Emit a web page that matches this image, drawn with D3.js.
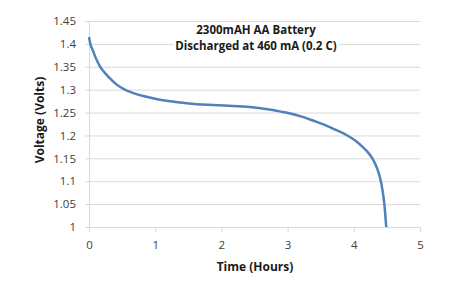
<!DOCTYPE html>
<html>
<head>
<meta charset="utf-8">
<script src="https://cdn.jsdelivr.net/npm/d3@7"></script>
<style>
  body { margin: 0; background: #fff; }
  svg { display: block; }
</style>
</head>
<body>
<div class="chart"></div>
<script>
// Taille du graphique
const width = 456;
const height = 289;
const margin = { top: 21, right: 36, bottom: 62, left: 89 };

const timeHours = [0, 0.02, 0.06, 0.1, 0.17, 0.25, 0.32, 0.42, 0.54, 0.68, 0.82, 1.0, 1.2, 1.5, 1.8, 2.1, 2.43, 2.7, 2.9, 3.04, 3.2, 3.39, 3.55, 3.7, 3.89, 4.02, 4.14, 4.22, 4.28, 4.33, 4.38, 4.42, 4.46, 4.49];
const voltage = [1.415, 1.4, 1.385, 1.37, 1.35, 1.335, 1.324, 1.311, 1.3, 1.292, 1.286, 1.28, 1.275, 1.27, 1.267, 1.265, 1.262, 1.257, 1.252, 1.248, 1.2416, 1.232, 1.2235, 1.214, 1.201, 1.189, 1.174, 1.162, 1.15, 1.136, 1.116, 1.092, 1.052, 1.0];

const xTicks = [0, 1, 2, 3, 4, 5];
const yTicks = [1, 1.05, 1.1, 1.15, 1.2, 1.25, 1.3, 1.35, 1.4, 1.45];
const titleLines = ['2300mAH AA Battery', 'Discharged at 460 mA (0.2 C)'];

const fontFamily = '"Open Sans", "DejaVu Sans", sans-serif';

const svg = d3.select('.chart')
	.append('svg')
	.attr('width', width)
	.attr('height', height)
	.style('font-family', fontFamily);

const x = d3.scaleLinear()
	.domain([0, 5])
	.range([margin.left, width - margin.right]);

const y = d3.scaleLinear()
	.domain([1, 1.45])
	.range([height - margin.bottom, margin.top]);

// Grille horizontale
svg.append('g')
	.attr('transform', `translate(${margin.left}, 0)`)
	.call(d3.axisLeft(y).tickValues(yTicks).tickSize(-(width - margin.left - margin.right)).tickFormat(''))
	.call(g => g.select('.domain').remove())
	.call(g => g.selectAll('line').attr('stroke', '#d9d9d9'));

// Axe vertical
svg.append('g')
	.attr('transform', `translate(${margin.left}, 0)`)
	.call(d3.axisLeft(y).tickValues(yTicks).tickSize(4).tickPadding(9).tickFormat(d3.format('')))
	.call(g => g.select('.domain').attr('stroke', '#d9d9d9'))
	.call(g => g.selectAll('line').attr('stroke', '#d9d9d9'))
	.call(g => g.selectAll('text').attr('fill', '#404040').style('font-size', '11.5px').style('font-family', fontFamily));

// Axe horizontal
svg.append('g')
	.attr('transform', `translate(0, ${height - margin.bottom})`)
	.call(d3.axisBottom(x).tickValues(xTicks).tickSize(5).tickPadding(9).tickFormat(d3.format('d')))
	.call(g => g.select('.domain').attr('stroke', '#d9d9d9'))
	.call(g => g.selectAll('line').attr('stroke', '#d9d9d9'))
	.call(g => g.selectAll('text').attr('fill', '#404040').style('font-size', '11.5px').style('font-family', fontFamily));

// Courbe
const data = timeHours.map((t, i) => ({ t: t, v: voltage[i] }));
svg.append('path')
	.datum(data)
	.attr('fill', 'none')
	.attr('stroke', '#4f81bd')
	.attr('stroke-width', 2.5)
	.attr('d', d3.line().x(d => x(d.t)).y(d => y(d.v)).curve(d3.curveMonotoneX));

// Titre (deux lignes) avec fond blanc
const title = svg.append('g');
const titleBg = title.append('rect').attr('fill', '#fff');
const titleTexts = title.selectAll('text')
	.data(titleLines)
	.join('text')
		.attr('x', 256)
		.attr('y', (d, i) => 34 + i * 16)
		.attr('text-anchor', 'middle')
		.style('font-size', '11.5px')
		.style('font-weight', 'bold')
		.attr('fill', '#1a1a1a')
		.text(d => d);
const bb = title.node().getBBox();
titleBg.attr('x', bb.x - 2).attr('y', bb.y).attr('width', bb.width + 4).attr('height', bb.height);

// Titres des axes
svg.append('text')
	.attr('x', 255)
	.attr('y', 271)
	.attr('text-anchor', 'middle')
	.style('font-size', '12px')
	.style('font-weight', 'bold')
	.attr('fill', '#1a1a1a')
	.text('Time (Hours)');

svg.append('text')
	.attr('transform', 'translate(44, 120) rotate(-90)')
	.attr('text-anchor', 'middle')
	.style('font-size', '12px')
	.style('font-weight', 'bold')
	.attr('fill', '#1a1a1a')
	.text('Voltage (Volts)');
</script>
</body>
</html>
